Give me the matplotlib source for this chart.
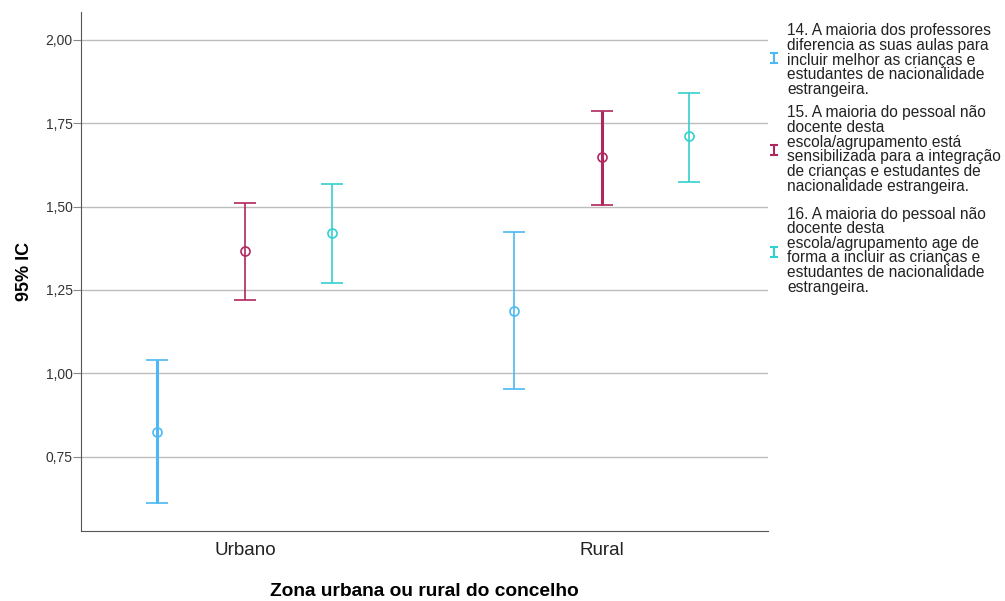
import numpy as np
import matplotlib.pyplot as plt

plt.rcParams['font.family'] = ['Liberation Sans', 'DejaVu Sans']

categories = ['Urbano', 'Rural']
series_labels = [
    '14. A maioria dos professores\ndiferencia as suas aulas para\nincluir melhor as crianças e\nestudantes de nacionalidade\nestrangeira.',
    '15. A maioria do pessoal não\ndocente desta\nescola/agrupamento está\nsensibilizada para a integração\nde crianças e estudantes de\nnacionalidade estrangeira.',
    '16. A maioria do pessoal não\ndocente desta\nescola/agrupamento age de\nforma a incluir as crianças e\nestudantes de nacionalidade\nestrangeira.',
]
# means and 95% CI bounds, one list per item, ordered Urbano, Rural
means = [[0.824, 1.187], [1.367, 1.649], [1.421, 1.712]]
lower = [[0.611, 0.953], [1.220, 1.505], [1.271, 1.574]]
upper = [[1.040, 1.424], [1.511, 1.787], [1.568, 1.841]]
yticks = [0.75, 1.00, 1.25, 1.50, 1.75, 2.00]

colors = ['#4cb9f5', '#b0275f', '#33d0d0']
widths = [[2.2, 1.2], [1.2, 2.2], [1.2, 1.2]]
offsets = [-0.245, 0.0, 0.245]

fig = plt.figure(figsize=(10.05, 6.01), dpi=100)
ax = fig.add_axes([0.0806, 0.1165, 0.6836, 0.8636])

x = np.arange(len(categories))
for i in range(3):
    m = np.array(means[i])
    lo = m - np.array(lower[i])
    hi = np.array(upper[i]) - m
    for j in range(len(categories)):
        ax.errorbar(x[j] + offsets[i], m[j], yerr=[[lo[j]], [hi[j]]],
                    fmt='o', mfc='none', mec=colors[i], mew=1.2, ms=6.5,
                    ecolor=colors[i], elinewidth=widths[i][j],
                    capsize=8, capthick=widths[i][j] * 0.9, zorder=3)

ax.set_xlim(-0.459, 1.465)
ax.set_ylim(0.527, 2.084)
ax.set_yticks(yticks)
ax.set_yticklabels([f'{v:.2f}'.replace('.', ',') for v in yticks],
                   fontsize=10, color='#333333')
ax.set_xticks(x)
ax.set_xticklabels(categories, fontsize=13.5, color='#222222')
ax.tick_params(axis='x', length=0, pad=8)
ax.tick_params(axis='y', length=5.5, color='#888888', width=0.8, pad=0.5)
ax.grid(axis='y', color='#bdbdbd', lw=1)
ax.set_axisbelow(True)
for s in ['top', 'right']:
    ax.spines[s].set_visible(False)
ax.spines['left'].set_color('#555555')
ax.spines['bottom'].set_color('#555555')
ax.set_ylabel('95% IC', fontsize=13, fontweight='bold', labelpad=9)
ax.set_xlabel('Zona urbana ou rural do concelho', fontsize=13.8,
              fontweight='bold', labelpad=17)

# legend drawn by hand in pixel coordinates to the right of the plot
lax = fig.add_axes([0, 0, 1, 1])
lax.set_xlim(0, 1005)
lax.set_ylim(601, 0)
lax.axis('off')
text_tops = [23.5, 105.5, 206.5]
mark_ys = [57.5, 150, 252]
for i in range(3):
    lax.errorbar([773.5], [mark_ys[i]], yerr=[[5], [5]], fmt='none',
                 ecolor=colors[i], elinewidth=1.5, capsize=3, capthick=1.5)
    lax.text(787, text_tops[i], series_labels[i], fontsize=11.2,
             va='top', ha='left', linespacing=0.97, color='#222222')

fig.savefig('out.png', dpi=100)
